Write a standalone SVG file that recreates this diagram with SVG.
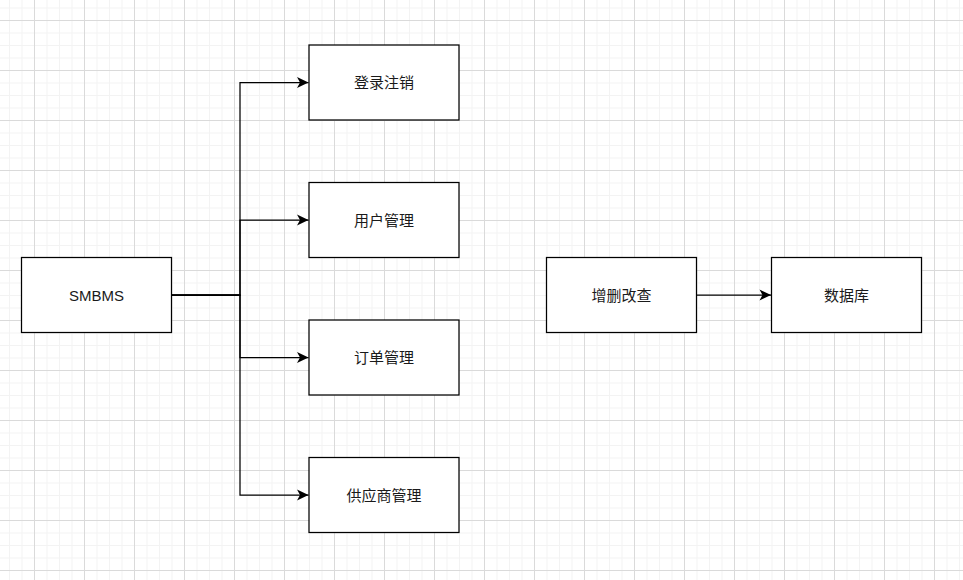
<svg xmlns="http://www.w3.org/2000/svg" width="963" height="580" viewBox="0 0 963 580">
  <defs>
    <pattern id="grid" patternUnits="userSpaceOnUse" x="34" y="20" width="50" height="50">
      <path d="M13 0V50M25.5 0V50M38 0V50M0 13H50M0 25.5H50M0 38H50" stroke="#f3f3f3" stroke-width="1" fill="none"/>
      <path d="M0.5 0V50M0 0.5H50" stroke="#dadada" stroke-width="1" fill="none"/>
    </pattern>
    <marker id="arrow" markerUnits="userSpaceOnUse" viewBox="-12 -6 13 12" refX="0" refY="0" markerWidth="13" markerHeight="12" orient="auto" overflow="visible">
      <path d="M0 0L-11.5 -5.5L-8.5 0L-11.5 5.5Z" fill="#000"/>
    </marker>
    <style>
      .box { fill: #fff; stroke: #000; stroke-width: 1.25; }
      .label { font-family: "Liberation Sans", "Noto Sans CJK SC", sans-serif; font-size: 15px; fill: #1a1a1a; text-anchor: middle; dominant-baseline: central; }
      .edge { fill: none; stroke: #000; stroke-width: 1.25; }
    </style>
  </defs>
  <rect x="0" y="0" width="963" height="580" fill="#fff"/>
  <rect x="0" y="0" width="963" height="580" fill="url(#grid)"/>

  <g id="connectors">
    <path class="edge" d="M171.5 295H240V82.5H308.5" marker-end="url(#arrow)"/>
    <path class="edge" d="M171.5 295H240V220H308.5" marker-end="url(#arrow)"/>
    <path class="edge" d="M171.5 295H240V357.5H308.5" marker-end="url(#arrow)"/>
    <path class="edge" d="M171.5 295H240V495H308.5" marker-end="url(#arrow)"/>
    <path class="edge" d="M696.5 295H771" marker-end="url(#arrow)"/>
  </g>

  <g id="smbms">
    <rect class="box" x="21.5" y="257.5" width="150" height="75"/>
    <text class="label" x="96.5" y="295">SMBMS</text>
  </g>
  <g id="login">
    <rect class="box" x="309" y="45" width="150" height="75"/>
    <text class="label" x="384" y="82.5">登录注销</text>
  </g>
  <g id="user">
    <rect class="box" x="309" y="182.5" width="150" height="75"/>
    <text class="label" x="384" y="220">用户管理</text>
  </g>
  <g id="order">
    <rect class="box" x="309" y="320" width="150" height="75"/>
    <text class="label" x="384" y="357.5">订单管理</text>
  </g>
  <g id="supplier">
    <rect class="box" x="309" y="457.5" width="150" height="75"/>
    <text class="label" x="384" y="495">供应商管理</text>
  </g>
  <g id="crud">
    <rect class="box" x="546.5" y="257.5" width="150" height="75"/>
    <text class="label" x="621.5" y="295">增删改查</text>
  </g>
  <g id="database">
    <rect class="box" x="771.5" y="257.5" width="150" height="75"/>
    <text class="label" x="846.5" y="295">数据库</text>
  </g>
</svg>
